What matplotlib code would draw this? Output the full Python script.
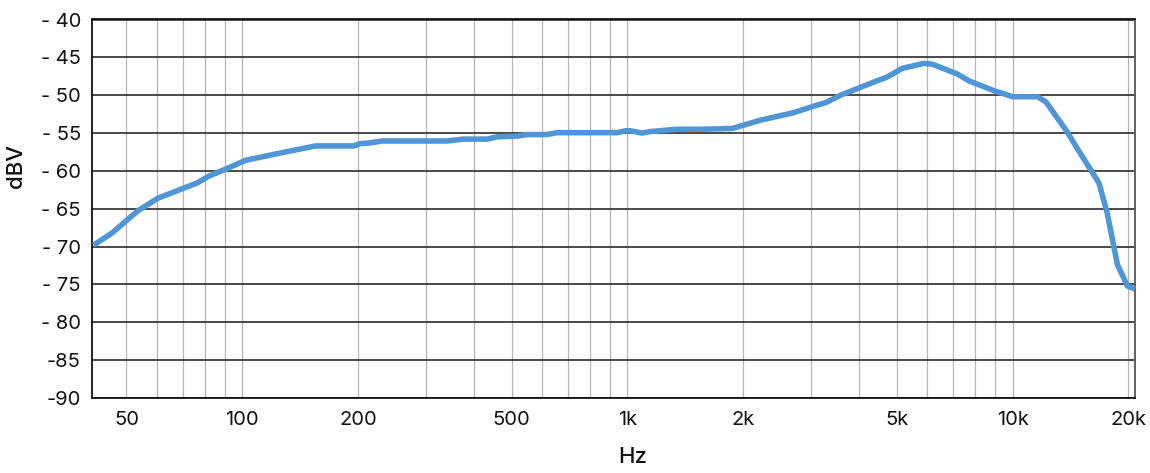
import matplotlib
matplotlib.use("Agg")
import matplotlib.pyplot as plt
from matplotlib.ticker import FixedLocator, NullLocator

plt.rcParams['font.family'] = ['Inter', 'DejaVu Sans']

freq_hz = [41.1, 45.9, 50.7, 53.8, 60.4, 71.1, 76.3, 81.8, 92.1, 101.9, 129.4, 154.9,
           194.7, 202.4, 215, 230.6, 340, 375.8, 432, 458.8, 517, 549, 618, 656.8,
           940, 988, 1018, 1092, 1147, 1346, 1547, 1871, 2216, 2704, 3111, 3268,
           3579, 4446, 4727, 5171, 5881, 6190, 7190, 7700, 8950, 9400, 9990, 11620,
           12220, 13850, 14710, 16770, 17620, 18730, 19880, 20800]
level_dbv = [-69.8, -68.2, -66.3, -65.2, -63.6, -62.2, -61.6, -60.7, -59.6, -58.6, -57.5, -56.7,
             -56.7, -56.4, -56.3, -56.05, -56.05, -55.8, -55.8, -55.5, -55.4, -55.2, -55.2, -54.95,
             -54.95, -54.7, -54.7, -55.0, -54.8, -54.5, -54.5, -54.4, -53.3, -52.3, -51.3, -51.0,
             -50.0, -48.1, -47.6, -46.45, -45.8, -45.9, -47.2, -48.1, -49.4, -49.75, -50.2, -50.2,
             -50.9, -54.8, -57.0, -61.6, -65.6, -72.4, -75.2, -75.6]

x_tick_values = [50, 100, 200, 500, 1000, 2000, 5000, 10000, 20000]
x_tick_labels = ['50', '100', '200', '500', '1k', '2k', '5k', '10k', '20k']
x_grid_values = [50, 60, 70, 80, 90, 100, 200, 300, 400, 500, 600, 700, 800, 900,
                 1000, 2000, 3000, 4000, 5000, 6000, 7000, 8000, 9000, 10000, 20000]
y_tick_values = [-40, -45, -50, -55, -60, -65, -70, -75, -80, -85, -90]
y_tick_labels = ['- 40', '- 45', '- 50', '- 55', '- 60', '- 65', '- 70', '- 75', '- 80', '-85', '-90']

fig = plt.figure(figsize=(11.5, 4.73), dpi=100)
ax = fig.add_axes([92/1150, 1 - 398/473, (1135 - 92)/1150, (398 - 19.5)/473])

ax.set_xscale('log')
ax.set_xlim(40.7, 20800)
ax.set_ylim(-90, -40)

for xv in x_grid_values:
    ax.axvline(xv, color='#b5b5b5', lw=0.9, zorder=1)
for yv in y_tick_values:
    ax.axhline(yv, color='#2a2a2a', lw=1.2, zorder=1)

ax.plot(freq_hz, level_dbv, color='#5096d7', lw=4.0, solid_joinstyle='round',
        solid_capstyle='butt', zorder=3)

ax.xaxis.set_major_locator(FixedLocator(x_tick_values))
ax.xaxis.set_minor_locator(NullLocator())
ax.set_xticklabels(x_tick_labels)
ax.set_yticks(y_tick_values)
ax.set_yticklabels(y_tick_labels)
ax.tick_params(axis='both', length=0, labelsize=14.5, colors='#111111')
ax.tick_params(axis='x', pad=9)
ax.tick_params(axis='y', pad=8)

for s in ax.spines.values():
    s.set_color('#111111')
    s.set_linewidth(1.3)
ax.spines['right'].set_color('#555555')

ax.set_xlabel('Hz', fontsize=16, fontweight='medium', color='#111111')
ax.set_ylabel('dBV', fontsize=16, fontweight='medium', color='#111111')
ax.xaxis.set_label_coords((633 - 92) / 1043, -(457 - 398) / 378.5, transform=ax.transAxes)
ax.xaxis.label.set_va('center')
ax.yaxis.set_label_coords(-(92 - 16) / 1043, (398 - 166) / 378.5, transform=ax.transAxes)
ax.yaxis.label.set_va('center')

fig.savefig('out.png', dpi=100, facecolor='white')
